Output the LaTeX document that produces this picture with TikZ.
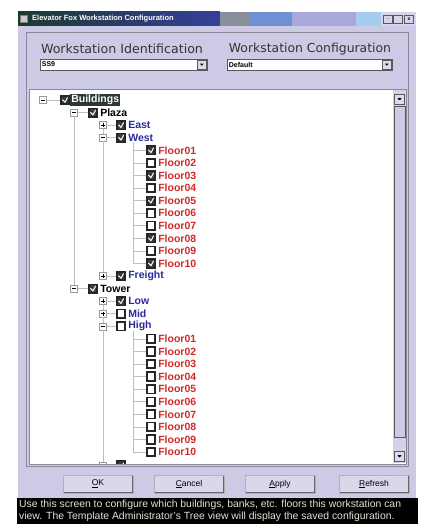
\documentclass[tikz,border=0pt]{standalone}
\usepackage{fontspec}
\setmainfont{Liberation Sans}
\newfontfamily\dlgfont{DejaVu Sans}
\usetikzlibrary{positioning}

\definecolor{dlgbg}{HTML}{CDCAE6}
\definecolor{titledark}{HTML}{1C3A30}
\definecolor{titlenavy}{HTML}{34409A}
\definecolor{titlegray}{HTML}{8A8F9C}
\definecolor{titleblue}{HTML}{7090D4}
\definecolor{titlelav}{HTML}{A8A8DA}
\definecolor{titlesky}{HTML}{A6CCF0}
\definecolor{navytext}{HTML}{2A2A9C}
\definecolor{floorred}{HTML}{D22A2A}
\definecolor{selgray}{HTML}{2E3833}
\definecolor{boxgray}{HTML}{3A3A3A}
\definecolor{edgegray}{HTML}{8A8898}
\definecolor{bartext}{HTML}{DDE6D6}

\tikzset{
  treeline/.style={draw=gray!50, line width=0.5pt},
  chkoff/.style={draw=black!85, line width=1.7pt, fill=white, minimum size=8.5pt, inner sep=0pt},
  chkon/.style={chkoff, fill=boxgray, path picture={
      \draw[white, line width=1pt] ([shift={(1.6pt,0.4pt)}]path picture bounding box.west)
        -- ([yshift=2pt]path picture bounding box.south)
        -- ([shift={(-1.6pt,-1.6pt)}]path picture bounding box.north east);}},
  expbox/.style={draw=gray!80, fill=white, line width=0.5pt, minimum size=7pt, inner sep=0pt},
  expminus/.style={expbox, path picture={
      \draw[black, line width=0.6pt] ([xshift=1.6pt]path picture bounding box.west)
        -- ([xshift=-1.6pt]path picture bounding box.east);}},
  expplus/.style={expbox, path picture={
      \draw[black, line width=0.6pt] ([xshift=1.6pt]path picture bounding box.west)
        -- ([xshift=-1.6pt]path picture bounding box.east)
        ([yshift=1.6pt]path picture bounding box.south)
        -- ([yshift=-1.6pt]path picture bounding box.north);}},
  lbl/.style={font=\bfseries\fontsize{10.5}{11}\selectfont, inner sep=1pt},
  combo/.style={draw=gray!70!black, fill=white, line width=0.6pt, minimum height=11pt, inner sep=0pt},
  combobtn/.style={draw=gray!70!black, fill=dlgbg!70!white, line width=0.5pt, minimum size=8.5pt, inner sep=0pt,
    path picture={\fill[black] ([shift={(-1.8pt,0.8pt)}]path picture bounding box.center)
        -- ([shift={(1.8pt,0.8pt)}]path picture bounding box.center)
        -- ([yshift=-1.2pt]path picture bounding box.center) -- cycle;}},
  dlgbtn/.style={draw=gray!60, fill=dlgbg!75!white, minimum width=70pt, minimum height=18pt, inner sep=0pt,
    font=\fontsize{8.5}{9}\selectfont,
    path picture={\draw[black!60, line width=1.6pt] (path picture bounding box.north east)
        -- (path picture bounding box.south east) -- (path picture bounding box.south west);}},
  winbtn/.style={draw=gray!70!black, fill=dlgbg!80!white, line width=0.4pt, minimum width=9pt, minimum height=8pt, inner sep=0pt}
}

\begin{document}
\begin{tikzpicture}[x=1pt, y={(0pt,-1pt)}]
    \useasboundingbox (0,0) rectangle (422,527);

    % window body and title bar
    \fill[dlgbg] (18,12) rectangle (416,498);
    \shade[left color=titledark, right color=titlenavy] (18,12) rectangle (220,26);
    \fill[titlegray] (220,12) rectangle (250,26);
    \fill[titleblue] (250,12) rectangle (292,26);
    \fill[titlelav] (292,12) rectangle (356,26);
    \fill[titlesky] (356,12) rectangle (381,26);
    \fill[dlgbg!80!white] (381,12) rectangle (416,26);
    \node[draw=gray, fill=gray!40, minimum size=7pt, inner sep=0pt] (icon) at (24,19) {};
    \node[anchor=west, text=white, font=\bfseries\fontsize{7.5}{8}\selectfont, inner sep=0pt] (ttl) at (32,19) {Elevator Fox Workstation Configuration};
    \node[winbtn] (minb) at (388,19) {\tiny\bfseries\_};
    \node[winbtn] (maxb) at (398,19) {};
    \node[winbtn] (clsb) at (409,19) {\tiny\bfseries x};

    % top group
    \draw[edgegray] (26,32) rectangle (408,466);
    \node[font=\dlgfont\fontsize{12.6}{13}\selectfont, text=black!80, inner sep=0pt] (idlbl) at (122,49) {Workstation Identification};
    \node[font=\dlgfont\fontsize{12.4}{13}\selectfont, text=black!80, inner sep=0pt] (cfglbl) at (310,49) {Workstation Configuration};
    \node[combo, minimum width=167pt] (idbox) at (123.5,64.5) {};
    \node[combo, minimum width=165pt] (cfgbox) at (309.5,64.5) {};
    \node[anchor=west, font=\bfseries\fontsize{7}{7}\selectfont, inner sep=0pt] at ([xshift=2pt]idbox.west) {SS9};
    \node[anchor=west, font=\bfseries\fontsize{7}{7}\selectfont, inner sep=0pt] at ([xshift=2pt]cfgbox.west) {Default};
    \node[combobtn, anchor=east] (idbtn) at ([xshift=-1pt]idbox.east) {};
    \node[combobtn, anchor=east] (cfgbtn) at ([xshift=-1pt]cfgbox.east) {};

    % tree view
    \draw[edgegray, fill=white] (29,89) rectangle (406,464);
    \fill[dlgbg!85!white] (393,90) rectangle (406,463);
    \draw[gray!70!black, fill=dlgbg] (394,106) rectangle (405,437);
    \node[combobtn, minimum size=10pt] (upb) at (399.5,99) {};
    \node[combobtn, minimum size=10pt] (dnb) at (399.5,456) {};
    \fill[black] ([shift={(-1.8pt,-0.6pt)}]upb.center) -- ([shift={(1.8pt,-0.6pt)}]upb.center) -- ([yshift=1.4pt]upb.center) -- cycle;

    \begin{scope}
    \clip (30,90) rectangle (393,463);
    % Buildings
    \node[expminus] (bldx) at (43,100) {};
    \node[chkon] (bld) at (65,100) {};
    \node[lbl, fill=selgray, text=white, right=0pt of bld] (bldt) {Buildings};
    % Plaza
    \node[expminus] (plzx) at (74,112.6) {};
    \node[chkon] (plz) at (93,112.6) {};
    \node[lbl, right=1pt of plz] (plzt) {Plaza};
    \node[expplus] (eastx) at (103,125.1) {};
    \node[chkon] (east) at (121,125.1) {};
    \node[lbl, navytext, right=1pt of east] (eastt) {East};
    \node[expminus] (westx) at (103,137.7) {};
    \node[chkon] (west) at (121,137.7) {};
    \node[lbl, navytext, right=1pt of west] (westt) {West};
    \node[chkon] (pf1) at (151,150.3) {};
    \node[chkoff] (pf2) at (151,162.9) {};
    \node[chkon] (pf3) at (151,175.4) {};
    \node[chkoff] (pf4) at (151,188) {};
    \node[chkon] (pf5) at (151,200.6) {};
    \node[chkoff] (pf6) at (151,213.1) {};
    \node[chkoff] (pf7) at (151,225.7) {};
    \node[chkon] (pf8) at (151,238.3) {};
    \node[chkoff] (pf9) at (151,250.8) {};
    \node[chkon] (pf10) at (151,263.4) {};
    \node[lbl, floorred, right=1pt of pf1] {Floor01};
    \node[lbl, floorred, right=1pt of pf2] {Floor02};
    \node[lbl, floorred, right=1pt of pf3] {Floor03};
    \node[lbl, floorred, right=1pt of pf4] {Floor04};
    \node[lbl, floorred, right=1pt of pf5] {Floor05};
    \node[lbl, floorred, right=1pt of pf6] {Floor06};
    \node[lbl, floorred, right=1pt of pf7] {Floor07};
    \node[lbl, floorred, right=1pt of pf8] {Floor08};
    \node[lbl, floorred, right=1pt of pf9] {Floor09};
    \node[lbl, floorred, right=1pt of pf10] {Floor10};
    \node[expplus] (frtx) at (103,276) {};
    \node[chkon] (frt) at (121,276) {};
    \node[lbl, navytext, right=1pt of frt] (frtt) {Freight};
    % Tower
    \node[expminus] (twrx) at (74,288.6) {};
    \node[chkon] (twr) at (93,288.6) {};
    \node[lbl, right=1pt of twr] (twrt) {Tower};
    \node[expplus] (lowx) at (103,301.1) {};
    \node[chkon] (low) at (121,301.1) {};
    \node[lbl, navytext, right=1pt of low] (lowt) {Low};
    \node[expplus] (midx) at (103,313.7) {};
    \node[chkoff] (mid) at (121,313.7) {};
    \node[lbl, navytext, right=1pt of mid] (midt) {Mid};
    \node[expminus] (highx) at (103,326.3) {};
    \node[chkoff] (high) at (121,326.3) {};
    \node[lbl, navytext, right=1pt of high] (hight) {High};
    \node[chkoff] (tf1) at (151,338.8) {};
    \node[chkoff] (tf2) at (151,351.4) {};
    \node[chkoff] (tf3) at (151,364) {};
    \node[chkoff] (tf4) at (151,376.5) {};
    \node[chkoff] (tf5) at (151,389.1) {};
    \node[chkoff] (tf6) at (151,401.7) {};
    \node[chkoff] (tf7) at (151,414.3) {};
    \node[chkoff] (tf8) at (151,426.8) {};
    \node[chkoff] (tf9) at (151,439.4) {};
    \node[chkoff] (tf10) at (151,452) {};
    \node[lbl, floorred, right=1pt of tf1] {Floor01};
    \node[lbl, floorred, right=1pt of tf2] {Floor02};
    \node[lbl, floorred, right=1pt of tf3] {Floor03};
    \node[lbl, floorred, right=1pt of tf4] {Floor04};
    \node[lbl, floorred, right=1pt of tf5] {Floor05};
    \node[lbl, floorred, right=1pt of tf6] {Floor06};
    \node[lbl, floorred, right=1pt of tf7] {Floor07};
    \node[lbl, floorred, right=1pt of tf8] {Floor08};
    \node[lbl, floorred, right=1pt of tf9] {Floor09};
    \node[lbl, floorred, right=1pt of tf10] {Floor10};
    \node[expplus] (morex) at (103,465.5) {};
    \node[chkon] (more) at (121,465.5) {};

    % tree lines
    \coordinate (wtop) at (133,142);
    \coordinate (wbot) at (133,263.4);
    \coordinate (htop) at (133,330.5);
    \coordinate (hbot) at (133,452);
    \draw[treeline] (bldx) -- (bld) (plzx) -- (plz) (twrx) -- (twr);
    \draw[treeline] (plzx) -- (twrx);
    \draw[treeline] (eastx) -- (westx) -- (frtx);
    \draw[treeline] (lowx) -- (midx) -- (highx) -- (morex);
    \draw[treeline] (eastx) -- (east) (westx) -- (west) (frtx) -- (frt);
    \draw[treeline] (lowx) -- (low) (midx) -- (mid) (highx) -- (high) (morex) -- (more);
    \draw[treeline] (wtop) -- (wbot) (htop) -- (hbot);
    \draw[treeline] (pf1.west) -- (pf1.west -| wtop) (pf2.west) -- (pf2.west -| wtop);
    \draw[treeline] (pf3.west) -- (pf3.west -| wtop) (pf4.west) -- (pf4.west -| wtop);
    \draw[treeline] (pf5.west) -- (pf5.west -| wtop) (pf6.west) -- (pf6.west -| wtop);
    \draw[treeline] (pf7.west) -- (pf7.west -| wtop) (pf8.west) -- (pf8.west -| wtop);
    \draw[treeline] (pf9.west) -- (pf9.west -| wtop) (pf10.west) -- (pf10.west -| wtop);
    \draw[treeline] (tf1.west) -- (tf1.west -| htop) (tf2.west) -- (tf2.west -| htop);
    \draw[treeline] (tf3.west) -- (tf3.west -| htop) (tf4.west) -- (tf4.west -| htop);
    \draw[treeline] (tf5.west) -- (tf5.west -| htop) (tf6.west) -- (tf6.west -| htop);
    \draw[treeline] (tf7.west) -- (tf7.west -| htop) (tf8.west) -- (tf8.west -| htop);
    \draw[treeline] (tf9.west) -- (tf9.west -| htop) (tf10.west) -- (tf10.west -| htop);
    \end{scope}
    \fill[black] ([shift={(-1.8pt,0.6pt)}]dnb.center) -- ([shift={(1.8pt,0.6pt)}]dnb.center) -- ([yshift=-1.4pt]dnb.center) -- cycle;

    % buttons
    \node[dlgbtn] (okb) at (98,484) {\underline{O}K};
    \node[dlgbtn] (cnb) at (189,484) {\underline{C}ancel};
    \node[dlgbtn] (apb) at (280,484) {\underline{A}pply};
    \node[dlgbtn] (rfb) at (374,484) {\underline{R}efresh};

    % help bar
    \fill[black] (17,498) rectangle (418,524);
    \node[anchor=west, text=bartext, font=\fontsize{10.4}{11}\selectfont, inner sep=0pt] (hlp1) at (19,505) {Use this screen to configure which buildings, banks, etc. floors this workstation can};
    \node[anchor=west, text=bartext, font=\fontsize{10.4}{11}\selectfont, inner sep=0pt] (hlp2) at (19,517) {view. The Template Administrator's Tree view will display the saved configuration.};
\end{tikzpicture}
\end{document}
